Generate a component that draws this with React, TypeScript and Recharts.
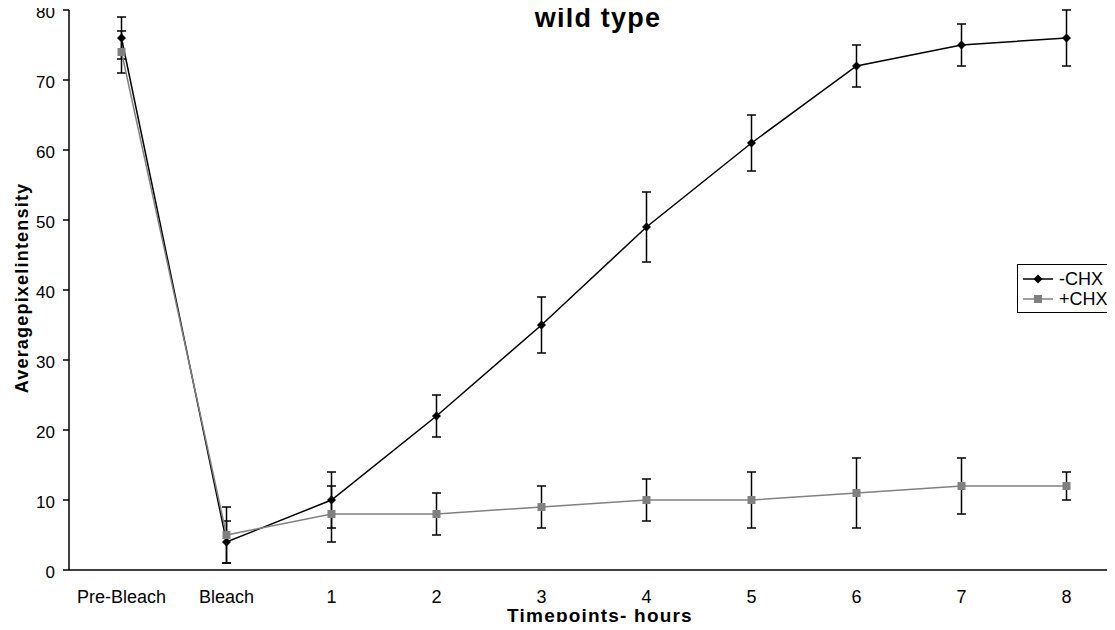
import React from 'react';
import { ComposedChart, Line, XAxis, YAxis, ErrorBar } from 'recharts';

const categories = ['Pre-Bleach', 'Bleach', '1', '2', '3', '4', '5', '6', '7', '8'];
const minusChx = [76, 4, 10, 22, 35, 49, 61, 72, 75, 76];
const minusChxErr = [3, 3, 4, 3, 4, 5, 4, 3, 3, 4];
const plusChx = [74, 5, 8, 8, 9, 10, 10, 11, 12, 12];
const plusChxErr = [3, 4, 4, 3, 3, 3, 4, 5, 4, 2];
const yTicks = [0, 10, 20, 30, 40, 50, 60, 70, 80];
const seriesNames = ['-CHX', '+CHX'];

const data = categories.map((c, i) => ({
  x: i + 0.5,
  cat: c,
  minus: minusChx[i],
  minusErr: minusChxErr[i],
  plus: plusChx[i],
  plusErr: plusChxErr[i],
}));

const boundaryTicks = categories.map((_, i) => i).concat([categories.length]);
const centerTicks = categories.map((_, i) => i + 0.5);

const FONT = '"Liberation Sans", Arial, sans-serif';
const BLACK = '#000000';
const GREY = '#808080';

const Diamond = (props: any) => {
  const { cx, cy } = props;
  if (cx == null || cy == null) return null;
  const r = 4.5;
  return <polygon points={`${cx},${cy - r} ${cx + r},${cy} ${cx},${cy + r} ${cx - r},${cy}`} fill={BLACK} stroke="none" />;
};

const Square = (props: any) => {
  const { cx, cy } = props;
  if (cx == null || cy == null) return null;
  const s = 4;
  return <rect x={cx - s} y={cy - s} width={2 * s} height={2 * s} fill={GREY} stroke="none" />;
};

const LegendBox = () => (
  <div
    style={{
      position: 'absolute',
      left: 1017,
      top: 264,
      width: 93,
      height: 47,
      border: '1px solid #000',
      background: '#fff',
      boxSizing: 'content-box',
      fontFamily: FONT,
      fontSize: 18,
      zIndex: 3,
    }}
  >
    {seriesNames.map((name, i) => {
      const isMinus = i === 0;
      const col = isMinus ? BLACK : GREY;
      return (
        <div key={name} style={{ display: 'flex', alignItems: 'center', height: 20, lineHeight: '20px', marginTop: i === 0 ? 4 : 0, paddingLeft: 5 }}>
          <svg width={32} height={12} style={{ marginRight: 4 }}>
            <line x1={0} y1={6} x2={30} y2={6} stroke={col} strokeWidth={1.5} />
            {isMinus ? (
              <polygon points="15,1.5 19.5,6 15,10.5 10.5,6" fill={BLACK} />
            ) : (
              <rect x={11} y={2} width={8} height={8} fill={GREY} />
            )}
          </svg>
          <span style={{ color: '#000' }}>{name}</span>
        </div>
      );
    })}
  </div>
);

export default function App() {
  return (
    <div style={{ margin: -8, width: 1115, height: 630, overflow: 'hidden', position: 'relative', background: '#fff' }}>
      <div
        style={{
          position: 'absolute',
          left: 398,
          width: 400,
          top: 5,
          textAlign: 'center',
          fontFamily: FONT,
          fontWeight: 'bold',
          fontSize: 27,
          lineHeight: '27px',
          letterSpacing: 1.2,
          zIndex: 2,
        }}
      >
        wild type
      </div>
      <LegendBox />
      <ComposedChart
        width={1120}
        height={630}
        data={data}
        margin={{ top: 10, right: 1, bottom: 0, left: 0 }}
        style={{ fontFamily: FONT }}
      >
        <XAxis
          xAxisId="a"
          type="number"
          dataKey="x"
          domain={[0, categories.length]}
          ticks={boundaryTicks}
          tick={false}
          tickSize={5}
          height={1}
          axisLine={{ stroke: '#000', strokeWidth: 1.5 }}
          tickLine={{ stroke: '#000', strokeWidth: 1.5 }}
          allowDataOverflow
        />
        <XAxis
          xAxisId="b"
          type="number"
          dataKey="x"
          domain={[0, categories.length]}
          ticks={centerTicks}
          tickFormatter={(v: number) => categories[Math.floor(v)]}
          tickLine={false}
          axisLine={false}
          tickSize={0}
          tickMargin={19}
          height={59}
          interval={0}
          tick={{ fill: '#000', fontSize: 18, fontFamily: FONT }}
          label={{
            value: 'Timepoints- hours',
            position: 'insideBottom',
            offset: 8,
            dx: 6,
            style: { fill: '#000', fontSize: 19, fontWeight: 'bold', fontFamily: FONT, letterSpacing: 1.2 },
          }}
        />
        <YAxis
          type="number"
          domain={[0, 80]}
          ticks={yTicks}
          width={69}
          tickSize={6}
          tickMargin={8}
          interval={0}
          axisLine={{ stroke: '#000', strokeWidth: 1.5 }}
          tickLine={{ stroke: '#000', strokeWidth: 1.5 }}
          tick={{ fill: '#000', fontSize: 17, fontFamily: FONT, dy: 2 }}
          label={{
            value: 'Averagepixelintensity',
            angle: -90,
            position: 'insideLeft',
            offset: 22,
            dy: -2,
            style: { textAnchor: 'middle', fill: '#000', fontSize: 18, fontWeight: 'bold', fontFamily: FONT, letterSpacing: 1.2 },
          }}
        />
        <Line
          xAxisId="b"
          dataKey="minus"
          name={seriesNames[0]}
          type="linear"
          stroke={BLACK}
          strokeWidth={1.5}
          dot={<Diamond />}
          activeDot={false}
          isAnimationActive={false}
        >
          <ErrorBar dataKey="minusErr" direction="y" width={4.5} stroke={BLACK} strokeWidth={1.5} isAnimationActive={false} />
        </Line>
        <Line
          xAxisId="b"
          dataKey="plus"
          name={seriesNames[1]}
          type="linear"
          stroke={GREY}
          strokeWidth={1.5}
          dot={<Square />}
          activeDot={false}
          isAnimationActive={false}
        >
          <ErrorBar dataKey="plusErr" direction="y" width={4.5} stroke={BLACK} strokeWidth={1.5} isAnimationActive={false} />
        </Line>
      </ComposedChart>
    </div>
  );
}
